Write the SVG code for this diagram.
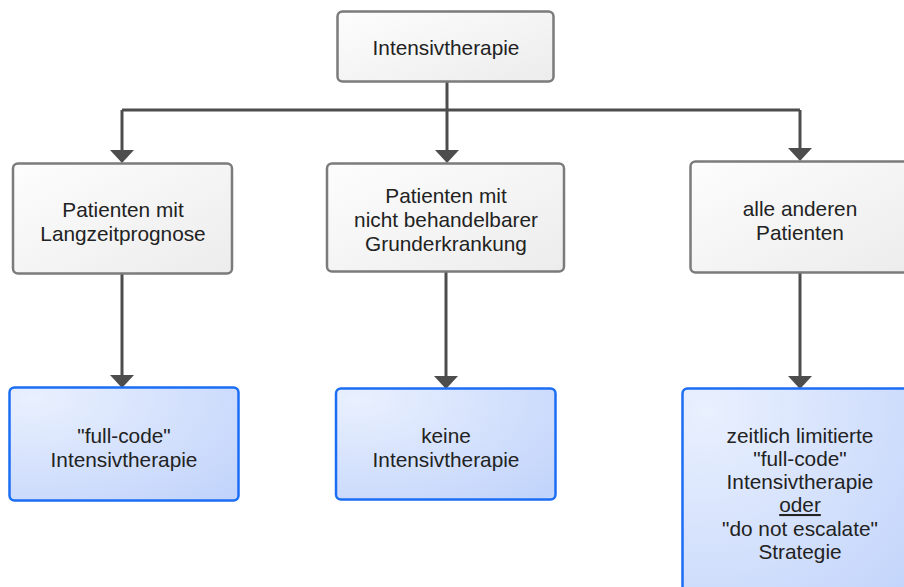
<svg xmlns="http://www.w3.org/2000/svg" width="904" height="587" viewBox="0 0 904 587">
<defs>
<linearGradient id="gGrey" x1="0" y1="0" x2="1" y2="1">
<stop offset="0" stop-color="#fdfdfd"/>
<stop offset="1" stop-color="#ececec"/>
</linearGradient>
<radialGradient id="gBlue" cx="0.1" cy="0.1" r="1.2">
<stop offset="0" stop-color="#e9f0fe"/>
<stop offset="1" stop-color="#c2d4fb"/>
</radialGradient>
</defs>
<style>
.grey{fill:url(#gGrey);stroke:#7b7b7b;stroke-width:2.5}
.blue{fill:url(#gBlue);stroke:#1b6ef3;stroke-width:2.5}
.t{font-family:"Liberation Sans",Arial,sans-serif;font-size:20.8px;fill:#222;text-anchor:middle}
.c{fill:none;stroke:#4d4d4d;stroke-width:3}
.h{fill:#4d4d4d}
</style>
<g id="connectors">
<path class="c" d="M447,82 V110"/>
<path class="c" d="M122,110 H800"/>
<path class="c" d="M122,110 V151"/>
<path class="c" d="M447,110 V151"/>
<path class="c" d="M800,110 V149"/>
<path class="h" d="M110,150 H134 L122,163 Z"/>
<path class="h" d="M435,150 H459 L447,163 Z"/>
<path class="h" d="M788,148 H812 L800,161 Z"/>
<path class="c" d="M122,274 V376"/>
<path class="c" d="M446,272 V377"/>
<path class="c" d="M800,273 V377"/>
<path class="h" d="M110,375 H134 L122,388 Z"/>
<path class="h" d="M434,376 H458 L446,389 Z"/>
<path class="h" d="M788,376 H812 L800,389 Z"/>
</g>
<g id="n-top">
<rect class="grey" x="337.5" y="11.5" width="216" height="70" rx="5"/>
<text class="t" x="446" y="55">Intensivtherapie</text>
</g>
<g id="n-left">
<rect class="grey" x="13" y="163.5" width="219" height="110" rx="5"/>
<text class="t" x="123" y="217">Patienten mit</text>
<text class="t" x="123" y="241">Langzeitprognose</text>
</g>
<g id="n-mid">
<rect class="grey" x="327" y="163.5" width="237" height="108" rx="5"/>
<text class="t" x="446" y="203">Patienten mit</text>
<text class="t" x="446" y="227">nicht behandelbarer</text>
<text class="t" x="446" y="251">Grunderkrankung</text>
</g>
<g id="n-right">
<rect class="grey" x="690.5" y="161.5" width="220" height="111" rx="5"/>
<text class="t" x="800" y="216">alle anderen</text>
<text class="t" x="800" y="240">Patienten</text>
</g>
<g id="b-left">
<rect class="blue" x="9.5" y="387.5" width="229" height="113" rx="5"/>
<text class="t" x="124" y="443">"full-code"</text>
<text class="t" x="124" y="467">Intensivtherapie</text>
</g>
<g id="b-mid">
<rect class="blue" x="336" y="388.5" width="219.5" height="111" rx="5"/>
<text class="t" x="446" y="443">keine</text>
<text class="t" x="446" y="467">Intensivtherapie</text>
</g>
<g id="b-right">
<rect class="blue" x="682.5" y="388.5" width="236" height="220" rx="5"/>
<text class="t" x="800" y="443">zeitlich limitierte</text>
<text class="t" x="800" y="466">"full-code"</text>
<text class="t" x="800" y="489">Intensivtherapie</text>
<text class="t" x="800" y="512" text-decoration="underline">oder</text>
<text class="t" x="800" y="536">"do not escalate"</text>
<text class="t" x="800" y="559">Strategie</text>
</g>
</svg>
